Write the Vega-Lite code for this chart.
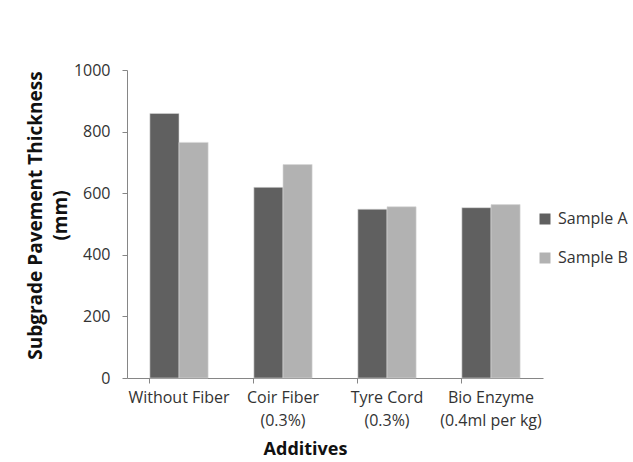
{
  "$schema": "https://vega.github.io/schema/vega-lite/v6.json",
  "width": 416,
  "height": 308,
  "autosize": "none",
  "padding": {"left": 127, "top": 70, "right": 90, "bottom": 84},
  "background": "white",
  "data": {
    "values": [
      {"additive": "Without Fiber", "sample": "Sample A", "thickness": 859},
      {"additive": "Without Fiber", "sample": "Sample B", "thickness": 765},
      {"additive": "Coir Fiber|(0.3%)", "sample": "Sample A", "thickness": 619},
      {"additive": "Coir Fiber|(0.3%)", "sample": "Sample B", "thickness": 693},
      {"additive": "Tyre Cord|(0.3%)", "sample": "Sample A", "thickness": 548},
      {"additive": "Tyre Cord|(0.3%)", "sample": "Sample B", "thickness": 556},
      {"additive": "Bio Enzyme|(0.4ml per kg)", "sample": "Sample A", "thickness": 553},
      {"additive": "Bio Enzyme|(0.4ml per kg)", "sample": "Sample B", "thickness": 563}
    ]
  },
  "mark": {"type": "bar", "stroke": "#d9d9d9", "strokeWidth": 0.6},
  "encoding": {
    "x": {
      "field": "additive",
      "type": "nominal",
      "sort": null,
      "scale": {"paddingInner": 0.44, "paddingOuter": 0.22},
      "axis": {
        "title": "Additives",
        "labelAngle": 0,
        "labelExpr": "split(datum.label, '|')",
        "labelLineHeight": 23,
        "labelBaseline": "top",
        "labelPadding": 6,
        "labelFont": "Open Sans",
        "labelFontSize": 16,
        "labelColor": "#333333",
        "bandPosition": 0,
        "tickSize": 5,
        "tickColor": "#868686",
        "domainColor": "#868686",
        "titleFont": "Open Sans",
        "titleFontSize": 18,
        "titleFontWeight": "bold",
        "titleColor": "#111111",
        "titleX": 178,
        "titleY": 62,
        "titleBaseline": "top",
        "titleAlign": "center"
      }
    },
    "xOffset": {"field": "sample", "type": "nominal", "scale": {"paddingInner": 0, "paddingOuter": 0}},
    "y": {
      "field": "thickness",
      "type": "quantitative",
      "scale": {"domain": [0, 1000]},
      "axis": {
        "title": ["Subgrade Pavement Thickness", "(mm)"],
        "values": [0, 200, 400, 600, 800, 1000],
        "format": "d",
        "grid": false,
        "labelFont": "Open Sans",
        "labelFontSize": 16,
        "labelColor": "#333333",
        "labelPadding": 12,
        "tickSize": 5,
        "tickColor": "#868686",
        "domainColor": "#868686",
        "titleFont": "Open Sans",
        "titleFontSize": 19,
        "titleFontWeight": "bold",
        "titleColor": "#111111",
        "titleLineHeight": 25,
        "titleAngle": -90,
        "titleX": -101,
        "titleY": 145,
        "titleAlign": "center",
        "titleBaseline": "top"
      }
    },
    "color": {
      "field": "sample",
      "type": "nominal",
      "scale": {"domain": ["Sample A", "Sample B"], "range": ["#606060", "#b2b2b2"]},
      "legend": {
        "title": null,
        "orient": "none",
        "legendX": 410,
        "legendY": 141,
        "symbolType": "square",
        "symbolSize": 121,
        "symbolStrokeWidth": 0,
        "labelFont": "Open Sans",
        "labelFontSize": 16,
        "labelColor": "#333333",
        "labelOffset": 5,
        "rowPadding": 23
      }
    }
  },
  "config": {"view": {"stroke": null}}
}
